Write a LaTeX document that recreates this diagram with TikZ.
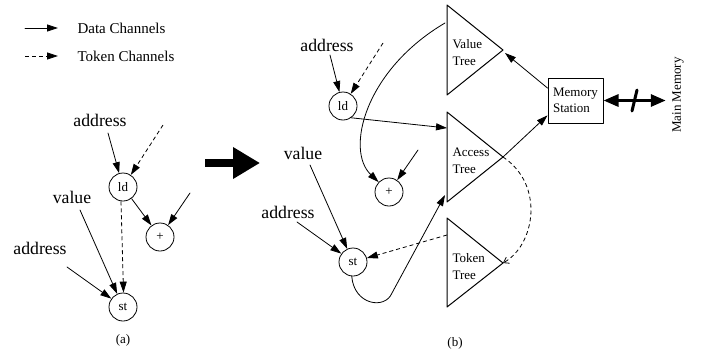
\documentclass[tikz,border=0pt]{standalone}
\usepackage{fontspec}
\setmainfont{Liberation Serif}
\usetikzlibrary{arrows.meta}

\begin{document}
\begin{tikzpicture}[x=1pt,y=-1pt,>={Triangle[length=11pt,width=7pt]}, line join=round, line cap=round,
	op/.style={draw,circle,line width=.8pt,minimum size=28pt,inner sep=0pt,font=\fontsize{13}{15}\selectfont},
	lbl/.style={font=\fontsize{17.7}{20}\selectfont},
	captxt/.style={font=\fontsize{13}{15}\selectfont},
	tlbl/.style={font=\fontsize{13}{17}\selectfont,align=left,anchor=west},
	chan/.style={->,line width=.8pt},
	tok/.style={->,line width=.8pt,dash pattern=on 4pt off 3pt,line cap=butt},
	tri/.style={line width=1pt}]
	\useasboundingbox (0,0) rectangle (706,359);
	% legend
	\coordinate (dA) at (25,28); \coordinate (dB) at (58,28);
	\coordinate (tA) at (25,56); \coordinate (tB) at (58,56);
	\draw[chan] (dA) -- (dB);
	\draw[tok] (tA) -- (tB);
	\node[anchor=west,font=\fontsize{15}{17}\selectfont] (dataTxt) at (74,28) {Data Channels};
	\node[anchor=west,font=\fontsize{15}{17}\selectfont] (tokTxt) at (74,56) {Token Channels};
	% (a)
	\node[op] (ldA) at (123,187) {ld};
	\node[op] (plusA) at (160,237) {+};
	\node[op] (stA) at (123,307) {st};
	\node[lbl] (addrA) at (100,120) {address};
	\node[lbl] (valA) at (72,197) {value};
	\node[lbl] (addrA2) at (40,248) {address};
	\coordinate (a1) at (108,133); \coordinate (a2) at (163,125); \coordinate (a3) at (190,193);
	\coordinate (a4) at (80,210); \coordinate (a5) at (67,267);
	\draw[chan] (a1) -- (ldA);
	\draw[tok] (a2) -- (ldA);
	\draw[chan] (ldA) -- (plusA);
	\draw[chan] (a3) -- (plusA);
	\draw[tok] (ldA.262) -- (stA.88);
	\draw[chan] (a4) -- (stA);
	\draw[chan] (a5) -- (stA);
	\node[captxt] (capA) at (123,340) {(a)};
	% big arrow
	\coordinate (bigS) at (205,163); \coordinate (bigE) at (260,163);
	\draw[line width=8pt,line cap=butt,-{Triangle[length=27pt,width=30pt]}] (bigS) -- (bigE);
	% (b)
	\draw[tri] (447,5) coordinate (vtT) -- (503,50) coordinate (vtTip) -- (447,95) coordinate (vtB) -- cycle;
	\draw[tri] (447,112) coordinate (atT) -- (503,157) coordinate (atTip) -- (447,202) coordinate (atB) -- cycle;
	\draw[tri] (447,218) coordinate (ttT) -- (503,263) coordinate (ttTip) -- (447,307) coordinate (ttB) -- cycle;
	\node[tlbl] (vtTxt) at (449,53) {Value\\Tree};
	\node[tlbl] (atTxt) at (449,161) {Access\\Tree};
	\node[tlbl] (ttTxt) at (449,267) {Token\\Tree};
	\node[op] (ldB) at (343,106) {ld};
	\node[op] (plusB) at (389,192) {+};
	\node[op] (stB) at (353,262) {st};
	\node[lbl] (addrB) at (327,45) {address};
	\node[lbl] (valB) at (303,153) {value};
	\node[lbl] (addrB2) at (288,212) {address};
	\coordinate (b1) at (330,55); \coordinate (b2) at (383,43); \coordinate (b3) at (418,150);
	\coordinate (b4) at (310,165); \coordinate (b5) at (297,222);
	\coordinate (vtIn) at (445,23); \coordinate (vtRet) at (505,53);
	\coordinate (atIn) at (447,128); \coordinate (atIn2) at (445,195);
	\coordinate (ttIn) at (447,235); \coordinate (stLoop) at (392,293);
	\draw[chan] (b1) -- (ldB);
	\draw[tok] (b2) -- (ldB);
	\draw[chan] (ldB.-55) -- (atIn);
	\draw[chan] (vtIn) .. controls (365,70) and (345,150) .. (plusB);
	\draw[chan] (b3) -- (plusB);
	\draw[chan] (b4) -- (stB);
	\draw[chan] (b5) -- (stB);
	\draw[tok] (ttIn) -- (stB);
	\draw[chan] (stB.265) .. controls (354,305) and (385,310) .. (stLoop) -- (atIn2);
	\draw[tok,-{Straight Barb[length=5pt,width=7pt]}] (atTip) .. controls (545,185) and (535,245) .. (ttTip);
	\node[draw,line width=1pt,minimum width=55pt,minimum height=45pt,align=left,inner sep=2pt,
		font=\fontsize{13}{16}\selectfont] (memSt) at (575.5,100.5) {Memory\\Station};
	\draw[chan] (memSt.156) -- (vtRet);
	\draw[chan] (atTip) -- (memSt.208);
	\node[rotate=90,font=\fontsize{13}{15}\selectfont] (mainMem) at (678,95) {Main Memory};
	\draw[line width=3pt,line cap=butt,{Triangle[length=15pt,width=12pt]}-{Triangle[length=15pt,width=12pt]},shorten >=3pt] (memSt.east) -- (mainMem.north |- memSt.east);
	\coordinate (cut) at (634.5,100.5);
	\draw[line width=3pt] ([shift={(2.5,-10.5)}]cut) -- ([shift={(-2.5,10.5)}]cut);
	\node[captxt] (capB) at (455,343) {(b)};
\end{tikzpicture}
\end{document}
